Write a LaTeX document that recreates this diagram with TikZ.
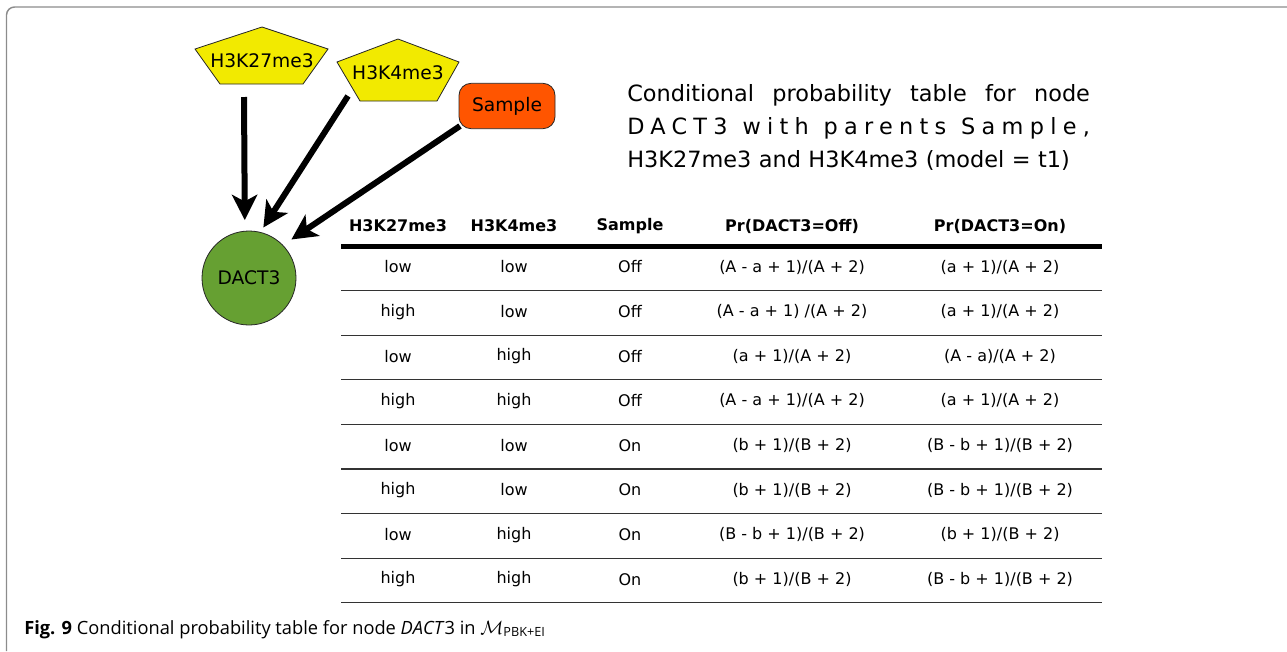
\documentclass[tikz,border=0pt]{standalone}
\usepackage{fontspec}
\setmainfont{DejaVu Sans}
\newfontfamily\capfont{Open Sans}
\usetikzlibrary{arrows.meta, positioning}
\definecolor{parentyellow}{HTML}{F2EA00}
\definecolor{sampleorange}{HTML}{FF5500}
\definecolor{childgreen}{HTML}{66A032}
\definecolor{framegray}{HTML}{8C8C8C}
\tikzset{
  every node/.style={inner sep=0pt},
  parent/.style={draw=black!85, line width=0.6pt, fill=parentyellow},
  label/.style={font=\fontsize{14}{16}\selectfont},
  sample/.style={label, draw=black!85, line width=0.6pt, fill=sampleorange,
    rounded corners=9pt, minimum width=72pt, minimum height=34pt},
  child/.style={label, circle, draw=black!85, line width=0.6pt,
    fill=childgreen, minimum size=70.5pt},
  dep/.style={line width=4.5pt, -{Stealth[length=19pt, width=19pt, inset=5pt]}},
  cell/.style={font=\fontsize{12}{14}\selectfont},
  head/.style={font=\fontsize{12}{14}\selectfont\bfseries},
}

\begin{document}
\begin{tikzpicture}[x=0.75pt, y=-0.75pt]
  \useasboundingbox (0,0) rectangle (1287,651);
  % frame
  \draw[framegray, line width=1.1pt] (6.5,651) -- (6.5,15) arc[start angle=180, end angle=270, radius=8] -- (1287,7);

  % network
  \fill[parent] (262,27) -- (328,49) -- (303,84) -- (220,84) -- (195,49) -- cycle;
  \fill[parent] (398,39) -- (459,62) -- (437,101) -- (360,101) -- (337,62) -- cycle;
  \node[label]          (h27)    at (262,61)  {H3K27me3};
  \node[label]          (h4)     at (398,73)  {H3K4me3};
  \node[sample]         (sample) at (507,106) {Sample};
  \node[child]          (dact)   at (249,278) {DACT3};

  \coordinate (h27out)    at (244,97);
  \coordinate (h4out)     at (348,96);
  \coordinate (sampleout) at (460,126);
  \draw[dep, shorten >=8pt]   (h27out)    -- (dact.95);
  \draw[dep, shorten >=4pt]   (h4out)     -- (dact.76);
  \draw[dep, shorten >=7.5pt] (sampleout) -- (dact.44);

  % title
  \node[anchor=base west, text width=347pt, align=left,
        font=\fontsize{16.8}{24.75}\selectfont] (title) at (627,101)
    {\makebox[347pt][l]{Conditional\hfill probability\hfill table\hfill for\hfill node}\\
     \makebox[347pt][l]{\addfontfeature{LetterSpace=28}DACT3\hfill with\hfill parents\hfill Sample,}\\
     H3K27me3 and H3K4me3 (model = t1)};

  % table
  \foreach \txt/\cx [count=\c] in {H3K27me3/398, H3K4me3/514, Sample/630, Pr(DACT3=Off)/792, Pr(DACT3=On)/1000}
    \node[head] (h-\c) at (\cx,226) {\txt};
  \draw[line width=3.75pt] (341,246) -- (1102,246);

  \foreach \ka/\kb/\smp/\off/\on [count=\r] in {
      low/low/Off/{(A - a + 1)/(A + 2)}/{(a + 1)/(A + 2)},
      high/low/Off/{(A - a + 1) /(A + 2)}/{(a + 1)/(A + 2)},
      low/high/Off/{(a + 1)/(A + 2)}/{(A - a)/(A + 2)},
      high/high/Off/{(A - a + 1)/(A + 2)}/{(a + 1)/(A + 2)},
      low/low/On/{(b + 1)/(B + 2)}/{(B - b + 1)/(B + 2)},
      high/low/On/{(b + 1)/(B + 2)}/{(B - b + 1)/(B + 2)},
      low/high/On/{(B - b + 1)/(B + 2)}/{(b + 1)/(B + 2)},
      high/high/On/{(b + 1)/(B + 2)}/{(B - b + 1)/(B + 2)}} {
    \pgfmathsetmacro{\ry}{267+44.6*(\r-1)}
    \node[cell] (r\r-1) at (398,\ry)  {\ka};
    \node[cell] (r\r-2) at (514,\ry)  {\kb};
    \node[cell] (r\r-3) at (630,\ry)  {\smp};
    \node[cell] (r\r-4) at (792,\ry)  {\off};
    \node[cell] (r\r-5) at (1000,\ry) {\on};
    \draw[black!80, line width=0.9pt] (341,\ry+23.5) -- (1102,\ry+23.5);
  }

  % caption
  \node[anchor=base west, font=\capfont\fontsize{13.7}{15}\selectfont] (caption) at (24,634)
    {\textbf{Fig. 9} Conditional probability table for node \textit{DACT}3 in
     $\mathcal{M}_{\mbox{\capfont\fontsize{9.5}{10}\selectfont PBK+EI}}$};
\end{tikzpicture}
\end{document}
